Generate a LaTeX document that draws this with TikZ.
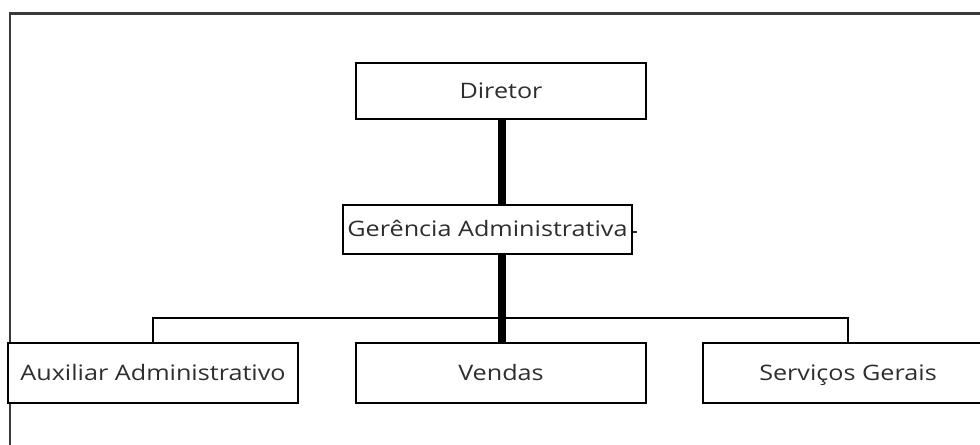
\documentclass[tikz,border=0pt]{standalone}
\usepackage{fontspec}
\setmainfont{Open Sans}
\usepackage{graphicx}
\definecolor{txt}{HTML}{2E2E2E}
\definecolor{frame}{HTML}{3A3A3A}
\tikzset{
  unitbox/.style={draw=black, line width=2pt, fill=white, inner sep=0pt, text=txt,
     font=\fontsize{16}{19}\selectfont, text height=12.4pt, text depth=1.6pt},
  topbox/.style={unitbox, minimum width=217.5pt, minimum height=42pt},
  midbox/.style={unitbox, minimum width=216.75pt, minimum height=36.75pt},
  botbox/.style={unitbox, minimum width=217.5pt, minimum height=45pt},
  thickline/.style={line width=5.5pt, black},
  busline/.style={line width=2pt, black},
  frameline/.style={line width=2.2pt, frame}
}
\newcommand{\wt}[1]{\scalebox{1.18}[1]{#1}}
\begin{document}
\begin{tikzpicture}[x=0.75pt, y=-0.75pt]
  \useasboundingbox (0,0) rectangle (980,444);
  \clip (0,0) rectangle (980,444);
  \fill[white] (0,0) rectangle (980,444);
  % frame
  \draw[frameline] (10,460) -- (10,13.5) -- (1000,13.5);
  % nodes
  \node[topbox] (dir) at (501,91) {\wt{Diretor}};
  \node[midbox] (ger) at (487.5,229.5) {\wt{Gerência Administrativa}};
  \node[botbox] (aux) at (153,373) {\wt{Auxiliar Administrativo}};
  \node[botbox] (ven) at (501,373) {\wt{Vendas}};
  \node[botbox] (ser) at (848,373) {\wt{Serviços Gerais}};
  % connectors
  \coordinate (busL) at (153,318);
  \coordinate (busR) at (848,318);
  \coordinate (tick) at (637,232);
  \draw[thickline] (dir.south -| 502,0) -- (ger.north -| 502,0);
  \draw[busline] (aux.north) -- (busL) -- (busR) -- (ser.north);
  \draw[thickline] (ger.south -| 502,0) -- (ven.north -| 502,0);
  \draw[line width=1pt, txt] (ger.east |- tick) -- (tick);
\end{tikzpicture}
\end{document}
